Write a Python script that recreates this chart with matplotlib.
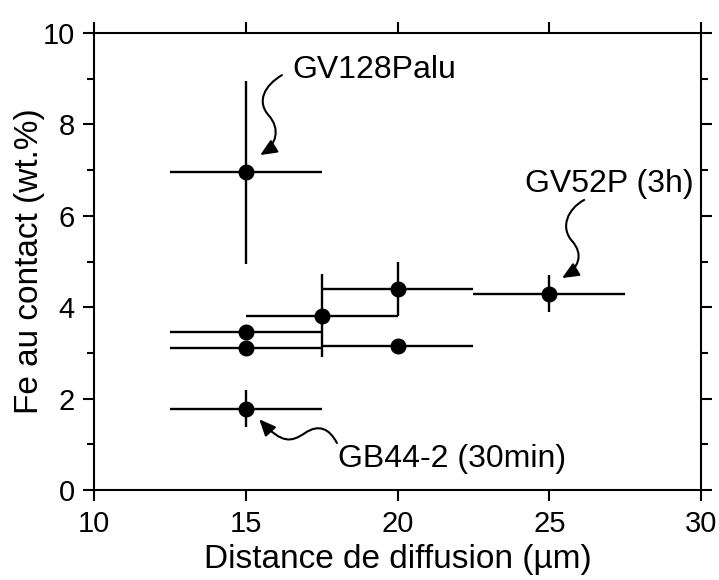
import matplotlib
matplotlib.use("Agg")
import matplotlib.pyplot as plt
from matplotlib.path import Path
from matplotlib.patches import FancyArrowPatch
from matplotlib.ticker import MultipleLocator

plt.rcParams['font.family'] = ['Liberation Sans', 'DejaVu Sans']

# diffusion distance (µm) and Fe at contact (wt.%)
distance = [15, 15, 15, 17.5, 20, 20, 25, 15]
fe = [6.95, 3.47, 3.12, 3.82, 4.40, 3.15, 4.30, 1.78]
distance_err = [2.5, 2.5, 2.5, 2.5, 2.5, 2.5, 2.5, 2.5]
fe_err = [2.0, 0, 0, 0.9, 0.6, 0, 0.4, 0.4]

labels = ["GV128Palu", "GV52P (3h)", "GB44-2 (30min)"]

fig = plt.figure(figsize=(7.19, 5.8), dpi=100)
ax = fig.add_axes([0.131, 0.155, 0.844, 0.788])

ax.errorbar(distance, fe, xerr=distance_err, yerr=fe_err, fmt='o', color='black',
            ms=10.5, elinewidth=1.7, capsize=0, zorder=3)

ax.set_xlim(10, 30)
ax.set_ylim(0, 10)
ax.xaxis.set_major_locator(MultipleLocator(5))
ax.yaxis.set_major_locator(MultipleLocator(2))
ax.yaxis.set_minor_locator(MultipleLocator(1))
ax.tick_params(which='both', direction='out', top=True, right=True,
               labelsize=21, width=1.5, pad=6)
ax.tick_params(which='major', length=8)
ax.tick_params(which='minor', length=5)
for s in ax.spines.values():
    s.set_linewidth(1.5)

ax.set_xlabel("Distance de diffusion (µm)", fontsize=24, labelpad=5)
ax.set_ylabel("Fe au contact (wt.%)", fontsize=24, labelpad=-2)

# annotations with wavy arrows
ax.text(16.52, 9.2, labels[0], fontsize=23, va='center', ha='left')
ax.text(24.2, 6.7, labels[1], fontsize=23, va='center', ha='left')
ax.text(18.05, 0.68, labels[2], fontsize=23, va='center', ha='left')

C = Path.CURVE4
wavy = [
    [(16.19, 9.08), (15.6, 8.85), (15.35, 8.5), (15.75, 8.2),
     (16.15, 7.9), (16.0, 7.55), (15.47, 7.33)],
    [(26.15, 6.35), (25.6, 6.15), (25.35, 5.75), (25.75, 5.45),
     (26.15, 5.15), (25.95, 4.85), (25.42, 4.64)],
    [(18.0, 1.03), (17.75, 1.35), (17.4, 1.45), (16.95, 1.25),
     (16.5, 1.05), (16.2, 1.0), (15.44, 1.55)],
]
for pts in wavy:
    path = Path(pts, [Path.MOVETO, C, C, C, C, C, C])
    arr = FancyArrowPatch(path=path, arrowstyle='-|>,head_length=0.5,head_width=0.22',
                          mutation_scale=20, color='black', lw=1.5,
                          shrinkA=0, shrinkB=0)
    ax.add_patch(arr)

fig.savefig("out.png", dpi=100)
